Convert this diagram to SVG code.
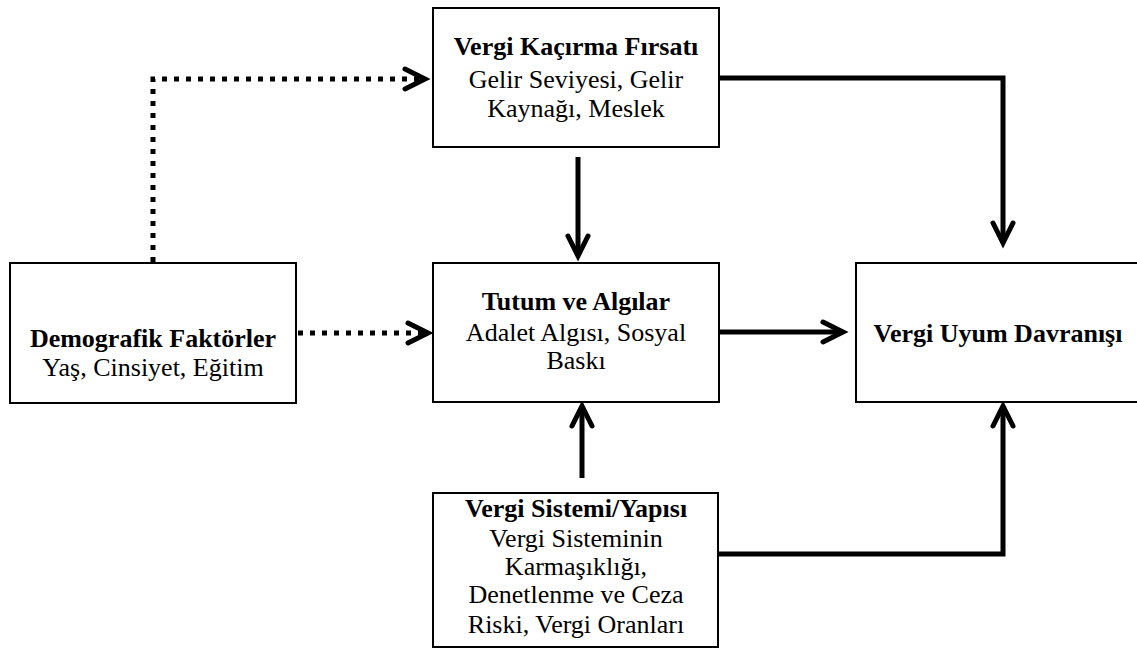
<svg xmlns="http://www.w3.org/2000/svg" width="1137" height="650" viewBox="0 0 1137 650">
  <style>
    .box { fill: #ffffff; stroke: #000000; stroke-width: 2; }
    .t { font-family: "Liberation Serif", "Times New Roman", serif; font-size: 26px; fill: #000000; text-anchor: middle; }
    .b { font-weight: bold; }
    .solid { fill: none; stroke: #000000; stroke-width: 5; stroke-linejoin: miter; }
    .dotted { fill: none; stroke: #000000; stroke-width: 5; stroke-dasharray: 5 7; }
    .head { fill: none; stroke: #000000; stroke-width: 5; stroke-linecap: round; stroke-linejoin: miter; }
  </style>
  <defs>
    <marker id="chev" markerUnits="userSpaceOnUse" orient="auto" overflow="visible" markerWidth="30" markerHeight="30" refX="0" refY="0">
      <path class="head" d="M-20,-10 L0,0 L-20,10"/>
    </marker>
  </defs>

  <rect width="1137" height="650" fill="#ffffff"/>

  <g id="connectors">
    <path class="dotted" d="M153,262 V79 H425" marker-end="url(#chev)"/>
    <path class="dotted" d="M298,333 H428" marker-end="url(#chev)"/>
    <path class="solid" d="M719,78 H1003 V243" marker-end="url(#chev)"/>
    <path class="solid" d="M719,332 H843" marker-end="url(#chev)"/>
    <path class="solid" d="M578,157 V256" marker-end="url(#chev)"/>
    <path class="solid" d="M582,478 V406" marker-end="url(#chev)"/>
    <path class="solid" d="M717,554 H1003 V406" marker-end="url(#chev)"/>
  </g>

  <g id="firsat">
    <rect class="box" x="433" y="8" width="286" height="139"/>
    <text class="t b" x="576" y="55">Vergi Kaçırma Fırsatı</text>
    <text class="t" x="576" y="88">Gelir Seviyesi, Gelir</text>
    <text class="t" x="576" y="117">Kaynağı, Meslek</text>
  </g>

  <g id="demografik">
    <rect class="box" x="10" y="263" width="286" height="140"/>
    <text class="t b" x="153" y="347">Demografik Faktörler</text>
    <text class="t" x="153" y="376">Yaş, Cinsiyet, Eğitim</text>
  </g>

  <g id="tutum">
    <rect class="box" x="433" y="263" width="286" height="139"/>
    <text class="t b" x="576" y="310">Tutum ve Algılar</text>
    <text class="t" x="576" y="341">Adalet Algısı, Sosyal</text>
    <text class="t" x="576" y="369">Baskı</text>
  </g>

  <g id="uyum">
    <rect class="box" x="856" y="263" width="286" height="139"/>
    <text class="t b" x="998" y="342">Vergi Uyum Davranışı</text>
  </g>

  <g id="sistem">
    <rect class="box" x="433" y="493" width="285" height="154"/>
    <text class="t b" x="576" y="517">Vergi Sistemi/Yapısı</text>
    <text class="t" x="576" y="547">Vergi Sisteminin</text>
    <text class="t" x="576" y="575">Karmaşıklığı,</text>
    <text class="t" x="576" y="603">Denetlenme ve Ceza</text>
    <text class="t" x="576" y="633">Riski, Vergi Oranları</text>
  </g>
</svg>
